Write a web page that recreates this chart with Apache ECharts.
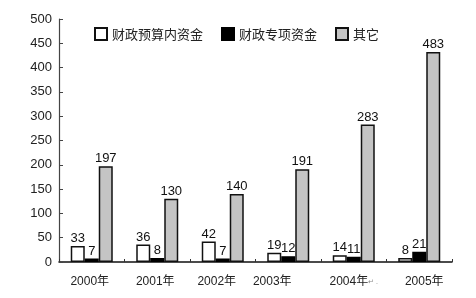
<!DOCTYPE html>
<html><head><meta charset="utf-8">
<script src="https://cdn.jsdelivr.net/npm/echarts@6/dist/echarts.min.js"></script>
<style>html,body{margin:0;padding:0;background:#fff}#c{width:476px;height:298px}</style>
</head><body><div id="c"></div>
<script>
var categories = ['2000年','2001年','2002年','2003年','2004年','2005年'];
var seriesNames = ['财政预算内资金','财政专项资金','其它'];
var budgetValues = [33, 36, 42, 19, 14, 8];
var specialValues = [7, 8, 7, 12, 11, 21];
// bar heights as drawn in the reference (last bar is drawn shorter than its printed label)
var otherValues = [197, 130, 140, 191, 283, 432];
var otherLabels = ['197', '130', '140', '191', '283', '483'];
var yTicks = [0, 50, 100, 150, 200, 250, 300, 350, 400, 450, 500];

var font = '"Liberation Sans", Arial, "Noto Sans CJK SC", sans-serif';
var chart = echarts.init(document.getElementById('c'), null, {renderer:'canvas'});
function lbl(fmt){
  return {show:true, position:'top', distance:1, color:'#111', fontSize:13, fontFamily:font, formatter: fmt};
}
var base = {fontSize:12, color:'#222', fontFamily:font};
chart.setOption({
  animation:false,
  backgroundColor:'#fff',
  grid:{left:59, right:24, top:19, bottom:36},
  legend:{
    left:89, top:22, itemWidth:12, itemHeight:12, itemGap:18,
    icon:'rect',
    textStyle:{fontSize:13, color:'#222', fontFamily:'"Noto Sans CJK SC", sans-serif'},
    data:seriesNames
  },
  xAxis:{
    type:'category', data:categories,
    axisLine:{lineStyle:{color:'#111', width:1.5}},
    axisTick:{show:true, inside:true, length:3, lineStyle:{color:'#333'}},
    axisLabel:{interval:0, hideOverlap:false, margin:14, color:'#222', fontSize:12, fontFamily:font,
      formatter:function(v, i){
        if (i===1) return '{a|'+v+'}';
        if (i===2) return '{b|'+v+'}';
        if (i===3) return '{c|'+v+'}';
        if (i===4) return v+'{s|↵ .}';
        if (i===5) return '{e|'+v+'}';
        return '{a|'+v+'}';
      },
      rich:{
        a:Object.assign({padding:[0,4,0,0]}, base),
        b:Object.assign({padding:[0,12,0,0]}, base),
        c:Object.assign({padding:[0,32,0,0]}, base),
        e:Object.assign({padding:[0,0,0,10]}, base),
        s:{fontSize:7, color:'#888', fontFamily:font}
      }}
  },
  yAxis:{
    type:'value', min:0, max:500, interval:50,
    axisLine:{show:true, lineStyle:{color:'#444', width:1.2}},
    axisTick:{show:true, inside:true, length:4, lineStyle:{color:'#444'}},
    splitLine:{show:false},
    axisLabel:{color:'#222', fontSize:13, fontFamily:font, margin:7,
      formatter:function(v){ return yTicks.indexOf(v)>=0 ? String(v) : ''; }}
  },
  series:[
    {name:seriesNames[0], type:'bar', data:budgetValues, barWidth:14, barGap:'0%', barCategoryGap:'33%',
     itemStyle:{color:'#fff', borderColor:'#111', borderWidth:1.5}, label:lbl('{c}')},
    {name:seriesNames[1], type:'bar', data:specialValues, barWidth:14, barGap:'0%',
     itemStyle:{color:'#000', borderColor:'#000', borderWidth:1.5}, label:lbl('{c}')},
    {name:seriesNames[2], type:'bar', data:otherValues, barWidth:14, barGap:'0%',
     itemStyle:{color:'#c4c4c4', borderColor:'#111', borderWidth:1.5},
     label:lbl(function(p){ return otherLabels[p.dataIndex]; })}
  ]
});
</script></body></html>
